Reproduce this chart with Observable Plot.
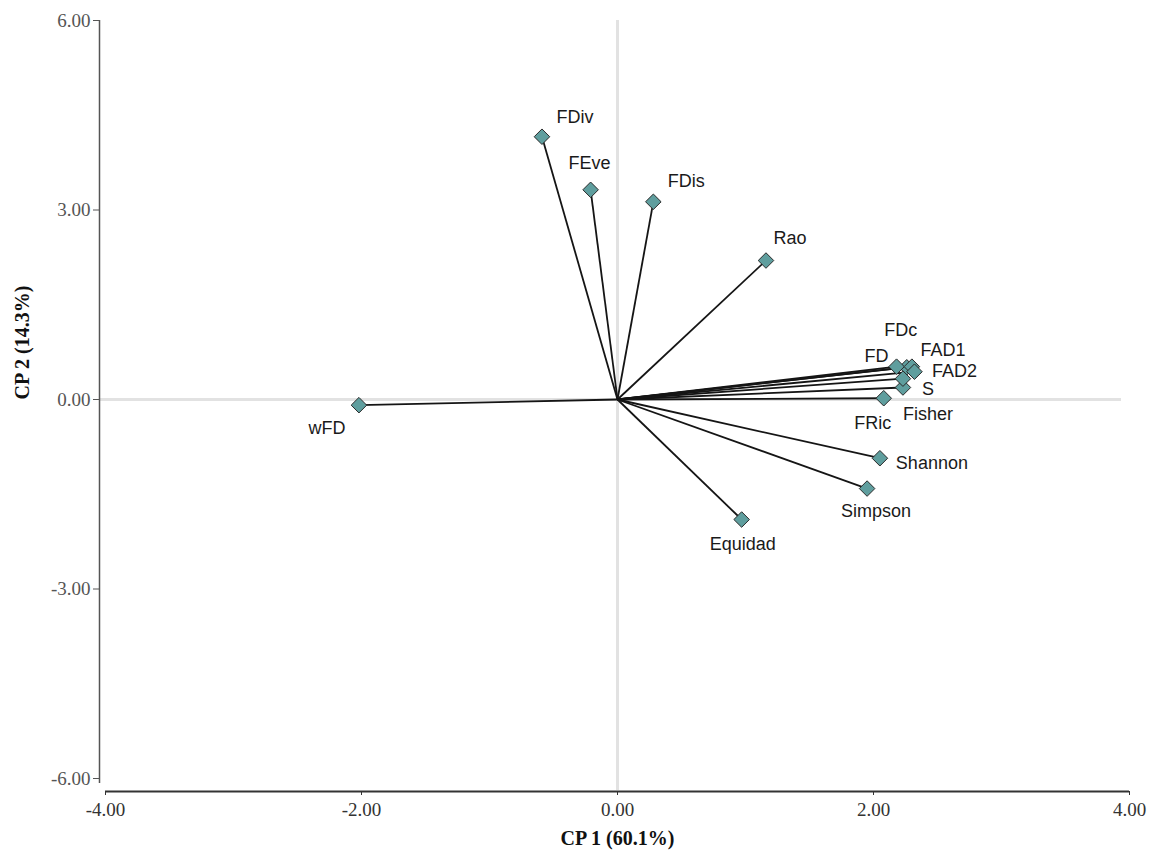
<!DOCTYPE html>
<html>
<head>
<meta charset="utf-8">
<script src="https://cdn.jsdelivr.net/npm/d3@7"></script>
<script src="https://cdn.jsdelivr.net/npm/@observablehq/plot@0.6"></script>
<style>
  html, body { margin: 0; padding: 0; background: #fff; }
  g[aria-label="axis-title"] text { letter-spacing: 1.2px; }
</style>
</head>
<body>
<div id="chart"></div>
<script>
// ---- data ----
const variables = ["FDiv", "FEve", "FDis", "Rao", "FDc", "FD", "FAD1", "FAD2", "S", "Fisher", "FRic", "Shannon", "Simpson", "Equidad", "wFD"];
const pc1 = [-0.59, -0.21, 0.28, 1.16, 2.26, 2.18, 2.30, 2.32, 2.23, 2.23, 2.08, 2.05, 1.95, 0.97, -2.02];
const pc2 = [4.16, 3.32, 3.13, 2.20, 0.51, 0.52, 0.52, 0.44, 0.19, 0.33, 0.02, -0.93, -1.41, -1.90, -0.09];
const xTicks = [-4, -2, 0, 2, 4];
const yTicks = [-6, -3, 0, 3, 6];
const xTitle = "CP 1 (60.1%)";
const yTitle = "CP 2 (14.3%)";

// ---- label placement (style) ----
const labelOffset = {
  FDiv: [33, -19], FEve: [-1, -27], FDis: [33, -21], Rao: [24, -22],
  FDc: [-6, -37], FD: [-20, -10], FAD1: [31, -16], FAD2: [40, 0],
  S: [25, 2], Fisher: [25, 36], FRic: [-11, 25], Shannon: [52, 5],
  Simpson: [9, 23], Equidad: [1, 25], wFD: [-32, 23]
};

const idx = variables.map((_, i) => i);

const labelMarks = idx.map(i => Plot.text([i], {
  x: j => pc1[j], y: j => pc2[j], text: j => variables[j],
  dx: labelOffset[variables[i]][0], dy: labelOffset[variables[i]][1],
  fontFamily: "Liberation Sans, Arial, sans-serif", fontSize: 18, fill: "#1a1a1a",
  textAnchor: "middle"
}));

const plot = Plot.plot({
  width: 1157,
  height: 853,
  marginLeft: 105,
  marginRight: 28,
  marginTop: 20,
  marginBottom: 75,
  style: { fontFamily: "Liberation Serif, Times New Roman, serif", fontSize: "19px", background: "#fff", overflow: "visible" },
  x: { domain: [-4, 4] },
  y: { domain: [-6, 6] },
  marks: [
    Plot.ruleX([0], { stroke: "#e2e2e2", strokeWidth: 3, insetBottom: -12 }),
    Plot.ruleY([0], { stroke: "#e2e2e2", strokeWidth: 3, insetLeft: -5, insetRight: 8 }),
    Plot.ruleX([-4], { dx: -6, stroke: "#555", strokeWidth: 1.5, insetBottom: -5 }),
    Plot.ruleY([-6], { dy: 13, stroke: "#333", strokeWidth: 2 }),
    Plot.axisY({ ticks: yTicks, tickFormat: d => d.toFixed(2), dx: -6, tickSize: 6, tickPadding: 3, color: "#555", label: null }),
    Plot.axisX({ ticks: xTicks, tickFormat: d => d.toFixed(2), dy: 13, tickSize: 4, tickPadding: 7, color: "#333", label: null }),
    Plot.link(idx, { x1: 0, y1: 0, x2: i => pc1[i], y2: i => pc2[i], stroke: "#151515", strokeWidth: 1.8 }),
    Plot.dot(idx, { x: i => pc1[i], y: i => pc2[i], symbol: "diamond2", r: 7, fill: "#5f9e9e", stroke: "#2a2a2a", strokeWidth: 1 }),
    ...labelMarks,
    Plot.text([xTitle], { frameAnchor: "bottom", dy: 66, text: d => d, fontWeight: "bold", fontSize: 20, fill: "#111", ariaLabel: "axis-title" }),
    Plot.text([yTitle], { frameAnchor: "left", dx: -83, rotate: -90, text: d => d, fontWeight: "bold", fontSize: 20, fill: "#111", ariaLabel: "axis-title" })
  ]
});
document.getElementById("chart").appendChild(plot);
</script>
</body>
</html>
